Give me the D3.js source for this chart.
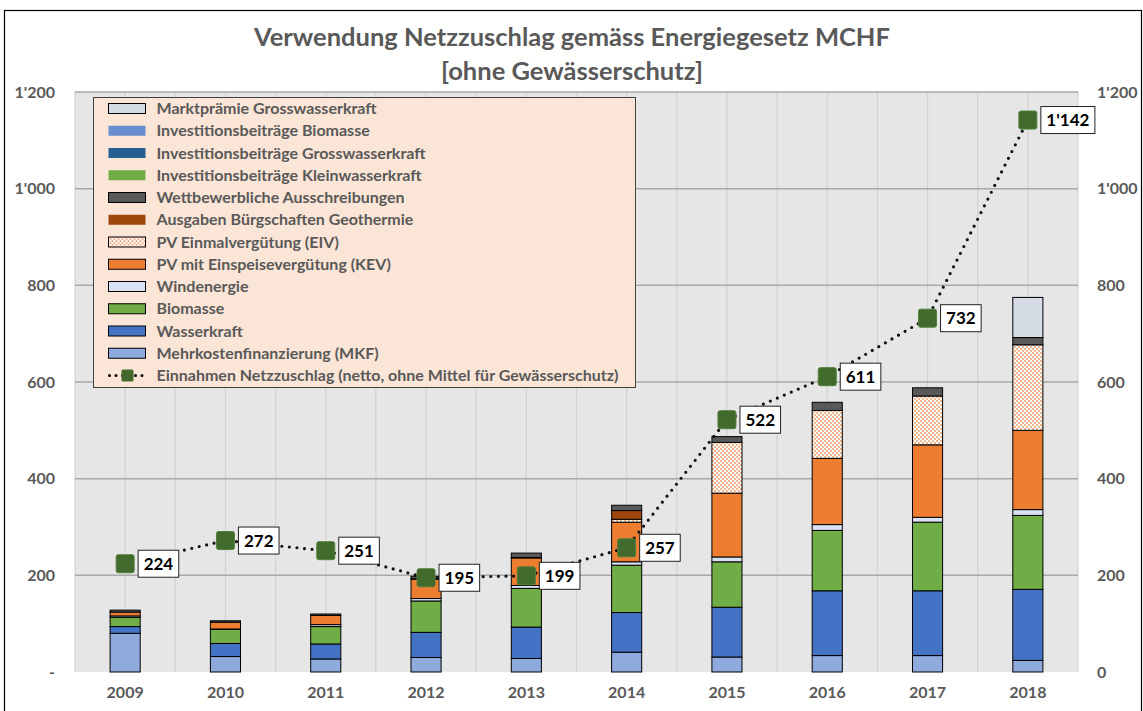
<!DOCTYPE html>
<html>
<head>
<meta charset="utf-8">
<script src="https://cdnjs.cloudflare.com/ajax/libs/d3/7.8.5/d3.min.js"></script>
<style>
  html, body { margin: 0; padding: 0; background: #fff; }
  svg { display: block; font-family: Lato, "Open Sans", sans-serif; font-weight: bold; }
</style>
</head>
<body>
<main></main>
<script>
(function () {

    // --- data (MCHF) ---
    var years = ["2009", "2010", "2011", "2012", "2013", "2014", "2015", "2016", "2017", "2018"];

    var mkf         = [80, 32, 27, 30, 28, 41, 31, 34, 34, 24],
        wasserkraft = [14, 27, 31, 52, 65, 82, 103, 134, 134, 147],
        biomasse    = [19, 29, 36, 65, 80, 98, 94, 125, 142, 153],
        wind        = [3, 1, 4, 5, 6, 7, 10, 12, 10, 12],
        kev         = [8, 14, 19, 40, 57, 82, 132, 137, 150, 164],
        eiv         = [0, 0, 0, 1, 1, 6, 105, 99, 101, 177],
        geothermie  = [0, 0, 0, 0, 0, 18, 0, 0, 0, 0],
        wettbewerb  = [4, 3, 3, 5, 9, 11, 12, 17, 17, 15],
        invKlein    = [0, 0, 0, 0, 0, 0, 0, 0, 0, 0],
        invGross    = [0, 0, 0, 0, 0, 0, 0, 0, 0, 0],
        invBio      = [0, 0, 0, 0, 0, 0, 0, 0, 0, 0],
        marktpraemie = [0, 0, 0, 0, 0, 0, 0, 0, 0, 83];

    var einnahmen = [224, 272, 251, 195, 199, 257, 522, 611, 732, 1142];

    var yTicks = [0, 200, 400, 600, 800, 1000, 1200];

    // stack order from bottom to top
    var series = [
        {key: "mkf", name: "Mehrkostenfinanzierung (MKF)", values: mkf, color: "#8FAADC", border: true},
        {key: "wasser", name: "Wasserkraft", values: wasserkraft, color: "#4472C4", border: true},
        {key: "bio", name: "Biomasse", values: biomasse, color: "#70AD47", border: true},
        {key: "wind", name: "Windenergie", values: wind, color: "#DAE3F3", border: true},
        {key: "kev", name: "PV mit Einspeisevergütung (KEV)", values: kev, color: "#ED7D31", border: true},
        {key: "eiv", name: "PV Einmalvergütung (EIV)", values: eiv, color: "url(#dots)", border: true},
        {key: "geo", name: "Ausgaben Bürgschaften Geothermie", values: geothermie, color: "#9E480E", border: false},
        {key: "wettb", name: "Wettbewerbliche Ausschreibungen", values: wettbewerb, color: "#595959", border: true},
        {key: "invKlein", name: "Investitionsbeiträge Kleinwasserkraft", values: invKlein, color: "#70AD47", border: false},
        {key: "invGross", name: "Investitionsbeiträge Grosswasserkraft", values: invGross, color: "#255E91", border: false},
        {key: "invBio", name: "Investitionsbeiträge Biomasse", values: invBio, color: "#698ED0", border: false},
        {key: "markt", name: "Marktprämie Grosswasserkraft", values: marktpraemie, color: "#D6DCE5", border: true}
    ];

    var width = 1143, height = 711,
        plot = {left: 75, right: 1078, top: 92, bottom: 672},
        grey = "#595959",
        markerColor = "#416A2C";

    var svg = d3.select("main").append("svg")
        .attr("width", width)
        .attr("height", height);

    var defs = svg.append("defs");
    var pat = defs.append("pattern")
        .attr("id", "dots")
        .attr("patternUnits", "userSpaceOnUse")
        .attr("width", 4).attr("height", 4);
    pat.append("rect").attr("width", 4).attr("height", 4).attr("fill", "#ffffff");
    pat.append("rect").attr("width", 2).attr("height", 2).attr("fill", "#F6B48A");
    pat.append("rect").attr("x", 2).attr("y", 2).attr("width", 2).attr("height", 2).attr("fill", "#F6B48A");

    var fmt = d3.formatLocale({decimal: ".", thousands: "'", grouping: [3], currency: ["", ""]}).format(",");

    var x = d3.scaleBand()
        .domain(years)
        .range([plot.left, plot.right])
        .paddingInner(0.7)
        .paddingOuter(0.35);

    var y = d3.scaleLinear()
        .domain([0, 1200])
        .range([plot.bottom, plot.top]);

    var step = x.step();
    var cx = function (yr) { return x(yr) + x.bandwidth() / 2; };

    // chart frame
    svg.append("rect")
        .attr("x", 4.5).attr("y", 10.5)
        .attr("width", 1137).attr("height", 720)
        .attr("fill", "none")
        .attr("stroke", "#000")
        .attr("stroke-width", 1.2);

    // title
    svg.append("text")
        .attr("x", 572).attr("y", 46)
        .attr("text-anchor", "middle")
        .attr("font-size", 25.5)
        .attr("fill", grey)
        .text("Verwendung Netzzuschlag gemäss Energiegesetz MCHF");
    svg.append("text")
        .attr("x", 572).attr("y", 80)
        .attr("text-anchor", "middle")
        .attr("font-size", 25.5)
        .attr("fill", grey)
        .text("[ohne Gewässerschutz]");

    // plot background and grid
    svg.append("rect")
        .attr("x", plot.left).attr("y", plot.top)
        .attr("width", plot.right - plot.left)
        .attr("height", plot.bottom - plot.top)
        .attr("fill", "#E6E6E6");

    var vLines = d3.range(0, years.length * 2 + 1).map(function (i) { return plot.left + i * step / 2; });
    svg.append("g").selectAll("line")
        .data(vLines)
        .join("line")
        .attr("x1", function (d) { return d; })
        .attr("x2", function (d) { return d; })
        .attr("y1", plot.top)
        .attr("y2", plot.bottom)
        .attr("stroke", "#D2D2D2")
        .attr("stroke-width", 1.2);

    svg.append("g").selectAll("line")
        .data(yTicks.filter(function (d) { return d > 0; }))
        .join("line")
        .attr("x1", plot.left)
        .attr("x2", plot.right)
        .attr("y1", function (d) { return y(d); })
        .attr("y2", function (d) { return y(d); })
        .attr("stroke", "#A9A9A9")
        .attr("stroke-width", 1.5);

    // axes
    var leftAxis = svg.append("g")
        .attr("transform", "translate(55,0)")
        .call(d3.axisLeft(y).tickValues(yTicks).tickSize(0).tickPadding(0)
            .tickFormat(function (d) { return d === 0 ? "-" : fmt(d); }));
    var rightAxis = svg.append("g")
        .attr("transform", "translate(1097,0)")
        .call(d3.axisRight(y).tickValues(yTicks).tickSize(0).tickPadding(0)
            .tickFormat(fmt));
    var bottomAxis = svg.append("g")
        .attr("transform", "translate(0," + plot.bottom + ")")
        .call(d3.axisBottom(x).tickSize(0).tickPadding(15));

    [leftAxis, rightAxis, bottomAxis].forEach(function (g) {
        g.select(".domain").remove();
        g.selectAll("text")
            .attr("font-family", "Lato, 'Open Sans', sans-serif")
            .attr("font-weight", "bold")
            .attr("font-size", 16)
            .attr("fill", grey);
    });

    // stacked bars
    var table = years.map(function (yr, i) {
        var row = {year: yr};
        series.forEach(function (s) { row[s.key] = s.values[i]; });
        return row;
    });
    var stacked = d3.stack().keys(series.map(function (s) { return s.key; }))(table);

    svg.append("g").selectAll("g")
        .data(stacked)
        .join("g")
        .attr("fill", function (d, i) { return series[i].color; })
        .selectAll("rect")
        .data(function (d) { return d.filter(function (p) { return p[1] - p[0] > 0; }); })
        .join("rect")
        .attr("x", function (d) { return x(d.data.year); })
        .attr("width", x.bandwidth())
        .attr("y", function (d) { return y(d[1]); })
        .attr("height", function (d) { return y(d[0]) - y(d[1]); })
        .attr("stroke", "#000")
        .attr("stroke-width", 1);

    // revenue line
    var line = d3.line()
        .x(function (d, i) { return cx(years[i]); })
        .y(function (d) { return y(d); });

    svg.append("path")
        .datum(einnahmen)
        .attr("d", line)
        .attr("fill", "none")
        .attr("stroke", "#111")
        .attr("stroke-width", 3.2)
        .attr("stroke-linecap", "round")
        .attr("stroke-dasharray", "0,7.6");

    svg.append("g").selectAll("rect")
        .data(einnahmen)
        .join("rect")
        .attr("x", function (d, i) { return cx(years[i]) - 9; })
        .attr("y", function (d) { return y(d) - 9; })
        .attr("width", 18).attr("height", 18)
        .attr("rx", 2)
        .attr("fill", markerColor)
        .attr("stroke", "#52803A")
        .attr("stroke-width", 1);

    var labels = svg.append("g").selectAll("g")
        .data(einnahmen)
        .join("g")
        .attr("transform", function (d, i) {
            return "translate(" + (cx(years[i]) + 13) + "," + (y(d) - 13.5) + ")";
        });
    labels.append("text")
        .attr("y", 19.5)
        .attr("font-size", 17)
        .attr("fill", "#000")
        .text(function (d) { return fmt(d); });
    labels.each(function () {
        var g = d3.select(this),
            t = g.select("text"),
            w = t.node().getComputedTextLength() + 11;
        g.insert("rect", "text")
            .attr("width", w).attr("height", 27)
            .attr("fill", "#fff")
            .attr("stroke", "#222")
            .attr("stroke-width", 1);
        t.attr("x", 5.5);
    });

    // legend
    var legend = svg.append("g").attr("transform", "translate(93.5,97.5)");
    legend.append("rect")
        .attr("width", 542).attr("height", 290)
        .attr("fill", "#FBE5D6")
        .attr("stroke", "#404040")
        .attr("stroke-width", 1);

    var legendItems = series.slice().reverse();
    var rows = legend.selectAll("g.row")
        .data(legendItems)
        .join("g")
        .attr("class", "row")
        .attr("transform", function (d, i) { return "translate(0," + (11 + i * 22.25) + ")"; });
    rows.append("rect")
        .attr("x", 15).attr("y", -5)
        .attr("width", 37).attr("height", 10)
        .attr("fill", function (d) { return d.color; })
        .attr("stroke", function (d) { return d.border ? "#000" : "none"; })
        .attr("stroke-width", 1);
    rows.append("text")
        .attr("x", 63).attr("y", 5.5)
        .attr("font-size", 16)
        .attr("fill", grey)
        .text(function (d) { return d.name; });

    var lineRow = legend.append("g")
        .attr("transform", "translate(0," + (11 + 12 * 22.25) + ")");
    lineRow.append("line")
        .attr("x1", 16).attr("x2", 52)
        .attr("stroke", "#111")
        .attr("stroke-width", 3.2)
        .attr("stroke-linecap", "round")
        .attr("stroke-dasharray", "0,6.5");
    lineRow.append("rect")
        .attr("x", 28).attr("y", -6).attr("width", 12).attr("height", 12)
        .attr("rx", 1.5)
        .attr("fill", markerColor);
    lineRow.append("text")
        .attr("x", 63).attr("y", 5.5)
        .attr("font-size", 16)
        .attr("fill", grey)
        .text("Einnahmen Netzzuschlag (netto, ohne Mittel für Gewässerschutz)");

})();
</script>
</body>
</html>
